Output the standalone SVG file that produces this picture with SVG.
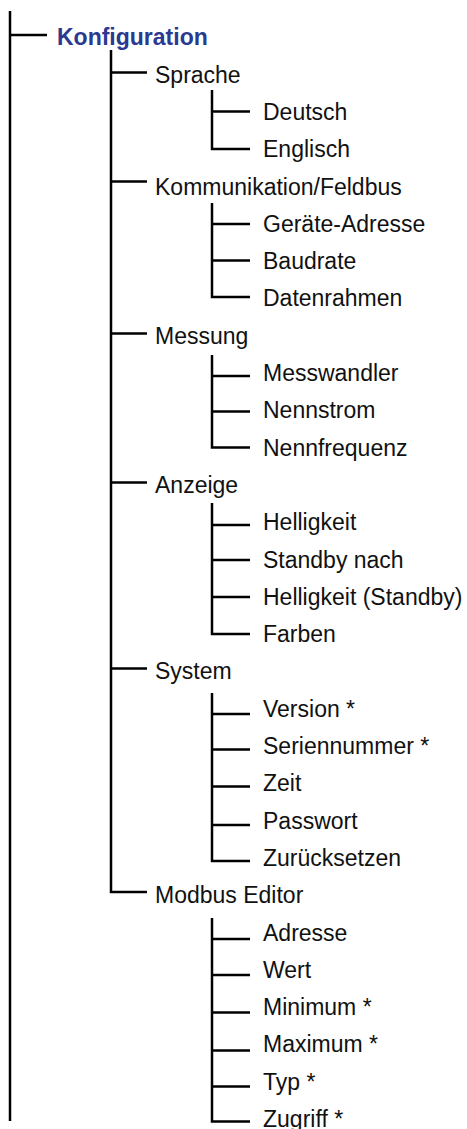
<svg xmlns="http://www.w3.org/2000/svg" width="467" height="1129" viewBox="0 0 467 1129">
<style>
.t{font-family:"Liberation Sans",Arial,sans-serif;font-size:23px;fill:#111}
.h{font-family:"Liberation Sans",Arial,sans-serif;font-size:23px;font-weight:bold;fill:#2b3990}
.c{stroke:#000;stroke-width:2.5;fill:none}
</style>
<rect width="467" height="1129" fill="#fff"/>
<g id="connectors" class="c">
<path d="M10 11V1121M10 35H47"/>
<path d="M111 50V892H147M111 72.5H147M111 181.5H147M111 333.5H147M111 482.5H147M111 668.5H147"/>
<path d="M212 90V149H250M212 111.5H250"/>
<path d="M212 203V297H250M212 224H250M212 260.5H250"/>
<path d="M212 355V447.5H250M212 376H250M212 411.5H250"/>
<path d="M212 503V634H250M212 525H250M212 560H250M212 597H250"/>
<path d="M212 693V861H250M212 714H250M212 749.5H250M212 786.5H250M212 825H250"/>
<path d="M212 918V1121.5H250M212 939H250M212 975H250M212 1012.5H250M212 1050.5H250M212 1086.5H250"/>
</g>
<g id="n-konfiguration"><text class="h" x="57" y="45.3">Konfiguration</text></g>
<g id="n-sprache"><text class="t" x="155" y="82.6">Sprache</text></g>
<g id="n-deutsch"><text class="t" x="263" y="119.9">Deutsch</text></g>
<g id="n-englisch"><text class="t" x="263" y="157.2">Englisch</text></g>
<g id="n-kommunikation"><text class="t" x="155" y="194.5">Kommunikation/Feldbus</text></g>
<g id="n-geraete-adresse"><text class="t" x="263" y="231.8">Geräte-Adresse</text></g>
<g id="n-baudrate"><text class="t" x="263" y="269.1">Baudrate</text></g>
<g id="n-datenrahmen"><text class="t" x="263" y="306.4">Datenrahmen</text></g>
<g id="n-messung"><text class="t" x="155" y="343.7">Messung</text></g>
<g id="n-messwandler"><text class="t" x="263" y="381">Messwandler</text></g>
<g id="n-nennstrom"><text class="t" x="263" y="418.3">Nennstrom</text></g>
<g id="n-nennfrequenz"><text class="t" x="263" y="455.6">Nennfrequenz</text></g>
<g id="n-anzeige"><text class="t" x="155" y="492.9">Anzeige</text></g>
<g id="n-helligkeit"><text class="t" x="263" y="530.2">Helligkeit</text></g>
<g id="n-standby-nach"><text class="t" x="263" y="567.5">Standby nach</text></g>
<g id="n-helligkeit-standby"><text class="t" x="263" y="604.8">Helligkeit (Standby)</text></g>
<g id="n-farben"><text class="t" x="263" y="642.1">Farben</text></g>
<g id="n-system"><text class="t" x="155" y="679.4">System</text></g>
<g id="n-version"><text class="t" x="263" y="716.7">Version *</text></g>
<g id="n-seriennummer"><text class="t" x="263" y="754">Seriennummer *</text></g>
<g id="n-zeit"><text class="t" x="263" y="791.3">Zeit</text></g>
<g id="n-passwort"><text class="t" x="263" y="828.6">Passwort</text></g>
<g id="n-zuruecksetzen"><text class="t" x="263" y="865.9">Zurücksetzen</text></g>
<g id="n-modbus-editor"><text class="t" x="155" y="903.2">Modbus Editor</text></g>
<g id="n-adresse"><text class="t" x="263" y="940.5">Adresse</text></g>
<g id="n-wert"><text class="t" x="263" y="977.8">Wert</text></g>
<g id="n-minimum"><text class="t" x="263" y="1015.1">Minimum *</text></g>
<g id="n-maximum"><text class="t" x="263" y="1052.4">Maximum *</text></g>
<g id="n-typ"><text class="t" x="263" y="1089.7">Typ *</text></g>
<g id="n-zugriff"><text class="t" x="263" y="1127">Zugriff *</text></g>
</svg>
